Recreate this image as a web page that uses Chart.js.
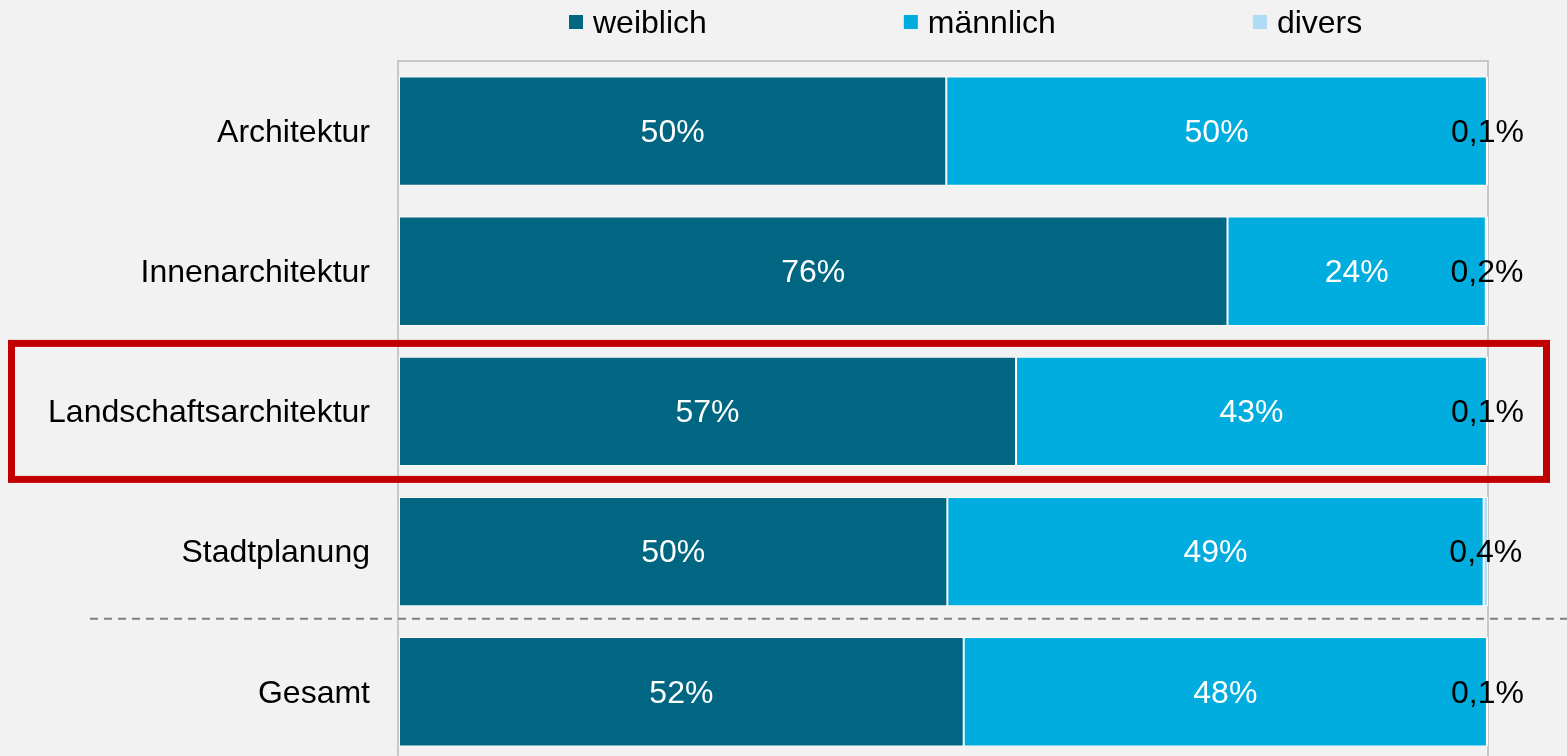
<!DOCTYPE html>
<html><head><meta charset="utf-8">
<script src="https://cdn.jsdelivr.net/npm/chart.js@4"></script>
<style>
html,body{margin:0;padding:0;background:#f2f2f2;overflow:hidden;width:1567px;height:756px}
#c{position:absolute;left:0;top:0;width:1567px;height:809px}
</style>
</head><body><canvas id="c" width="1567" height="809"></canvas>
<script>
const categories = ['Architektur', 'Innenarchitektur', 'Landschaftsarchitektur', 'Stadtplanung', 'Gesamt'];
const weiblich = [50.3, 76.1, 56.7, 50.4, 51.9];
const maennlich = [49.6, 23.7, 43.2, 49.2, 48.0];
const divers = [0.1, 0.2, 0.1, 0.4, 0.1];
const seriesNames = ['weiblich', 'männlich', 'divers'];
const seriesColors = ['#006682', '#00ADDE', '#ADDCF4'];
const labelColors = ['#ffffff', '#ffffff', '#000000'];
const xTicks = [0, 100];
const highlightIndex = 2;
const separatorAfterIndex = 3;

const FONT = '"Liberation Sans", Arial, sans-serif';

function fmt(v, i) {
  if (i === 2) return v.toFixed(1).replace('.', ',') + '%';
  return Math.round(v) + '%';
}

const labelsPlugin = {
  id: 'valueLabels',
  afterDatasetsDraw(chart) {
    const ctx = chart.ctx;
    ctx.save();
    ctx.font = '32px ' + FONT;
    ctx.textAlign = 'center';
    ctx.textBaseline = 'middle';
    chart.data.datasets.forEach((ds, i) => {
      const meta = chart.getDatasetMeta(i);
      meta.data.forEach((el, j) => {
        const p = el.getProps(['x', 'y', 'base'], true);
        ctx.fillStyle = labelColors[i];
        ctx.fillText(fmt(ds.data[j], i), (p.x + p.base) / 2, p.y + 2);
      });
    });
    ctx.restore();
  }
};

const decorPlugin = {
  id: 'decor',
  afterDraw(chart) {
    const ctx = chart.ctx;
    const y = chart.scales.y;
    ctx.save();
    // dashed separator
    const ySep = (y.getPixelForValue(separatorAfterIndex) + y.getPixelForValue(separatorAfterIndex + 1)) / 2 - 3;
    ctx.strokeStyle = '#808080';
    ctx.lineWidth = 2;
    ctx.setLineDash([8, 6]);
    ctx.beginPath();
    ctx.moveTo(90, ySep);
    ctx.lineTo(chart.width, ySep);
    ctx.stroke();
    ctx.setLineDash([]);
    // highlight box
    const yc = y.getPixelForValue(highlightIndex);
    ctx.strokeStyle = '#C00000';
    ctx.lineWidth = 7;
    ctx.strokeRect(11.5, yc - 68, 1535, 136);
    // legend
    ctx.font = '32px ' + FONT;
    ctx.textBaseline = 'alphabetic';
    ctx.textAlign = 'left';
    let x = 569;
    chart.data.datasets.forEach((ds, i) => {
      ctx.fillStyle = ds.backgroundColor;
      ctx.fillRect(x, 15, 14, 14);
      ctx.fillStyle = '#000';
      ctx.fillText(ds.label, x + 24, 33);
      x += 24 + ctx.measureText(ds.label).width + 197;
    });
    ctx.restore();
  }
};

const values = [weiblich, maennlich, divers];

new Chart(document.getElementById('c'), {
  type: 'bar',
  data: {
    labels: categories,
    datasets: values.map((d, i) => ({
      label: seriesNames[i],
      data: d,
      backgroundColor: seriesColors[i],
      borderColor: '#ffffff',
      borderWidth: 1,
      borderSkipped: false,
      barPercentage: 0.78,
      categoryPercentage: 1
    }))
  },
  options: {
    indexAxis: 'y',
    responsive: false,
    animation: false,
    devicePixelRatio: 1,
    layout: { padding: { left: 0, right: 79, top: 61, bottom: 9 } },
    plugins: { legend: { display: false }, tooltip: { enabled: false } },
    scales: {
      x: {
        stacked: true,
        position: 'top',
        min: 0, max: 100,
        afterBuildTicks: s => { s.ticks = xTicks.map(v => ({ value: v })); },
        afterFit: s => { s.height = 0; },
        ticks: { display: false },
        grid: { color: '#C8C8C8', lineWidth: 2, drawTicks: false },
        border: { display: true, color: '#C8C8C8', width: 2 }
      },
      y: {
        stacked: true,
        afterFit: s => { s.width = 398; },
        grid: { display: false, drawTicks: false },
        border: { display: false },
        ticks: { color: '#000', padding: 28, labelOffset: 2, font: { size: 32, family: FONT } }
      }
    }
  },
  plugins: [labelsPlugin, decorPlugin]
});
</script>
</body></html>
